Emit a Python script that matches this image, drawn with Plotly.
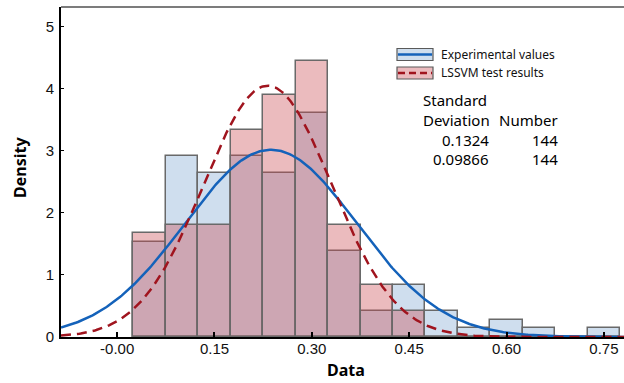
import numpy as np
import plotly.graph_objects as go

# ---- data ----
bin_centers = [0.05, 0.10, 0.15, 0.20, 0.25, 0.30, 0.35, 0.40, 0.45, 0.50, 0.55, 0.60, 0.65, 0.70, 0.75]
exp_counts = [11, 21, 19, 21, 19, 26, 10, 3, 6, 3, 1, 2, 1, 0, 1]
lssvm_counts = [12, 13, 13, 24, 28, 32, 13, 6, 3, 0, 0, 0, 0, 0, 0]
bin_width = 0.05
n_samples = [144, 144]
std_values = [0.1324, 0.09866]
std_labels = ["0.1324", "0.09866"]
mean_values = [0.237, 0.232]
series_names = ["Experimental values", "LSSVM test results"]
x_tickvals = [0.0, 0.15, 0.30, 0.45, 0.60, 0.75]
x_ticktext = ["-0.00", "0.15", "0.30", "0.45", "0.60", "0.75"]
y_tickvals = [0, 1, 2, 3, 4, 5]

X_RANGE = [-0.0865, 0.781]
Y_RANGE = [0, 5.31]

W, H = 624, 383
ML, MR, MT, MB = 61, 0, 7, 46
PW, PH = W - ML - MR, H - MT - MB


def px(x):
    return (x - ML) / PW


def py(y):
    return (H - MB - y) / PH


exp_density = [c / (n_samples[0] * bin_width) for c in exp_counts]
lssvm_density = [c / (n_samples[1] * bin_width) for c in lssvm_counts]

xs = np.linspace(X_RANGE[0], X_RANGE[1], 400)


def normal_pdf(x, m, s):
    return np.exp(-0.5 * ((x - m) / s) ** 2) / (s * np.sqrt(2 * np.pi))


BLUE_FILL = "rgba(127,167,210,0.375)"
PINK_FILL = "rgba(202,74,82,0.375)"
OUTLINE = "rgb(105,105,105)"
BLUE_LINE = "rgb(20,98,186)"
RED_LINE = "rgb(160,20,30)"

fig = go.Figure()
fig.add_trace(go.Bar(x=bin_centers, y=exp_density, width=bin_width,
                     marker=dict(color=BLUE_FILL, line=dict(color=OUTLINE, width=1.5)),
                     name=series_names[0], showlegend=False))
fig.add_trace(go.Bar(x=bin_centers, y=lssvm_density, width=bin_width,
                     marker=dict(color=PINK_FILL, line=dict(color=OUTLINE, width=1.5)),
                     name=series_names[1], showlegend=False))
fig.add_trace(go.Scatter(x=xs, y=normal_pdf(xs, mean_values[0], std_values[0]), mode="lines",
                         line=dict(color=BLUE_LINE, width=2.5), showlegend=False))
fig.add_trace(go.Scatter(x=xs, y=normal_pdf(xs, mean_values[1], std_values[1]), mode="lines",
                         line=dict(color=RED_LINE, width=2.5, dash="10px,6px"), showlegend=False))

tick_font = dict(family="Liberation Sans", size=15, color="#111")
fig.update_layout(
    width=W, height=H,
    margin=dict(l=ML, r=MR, t=MT, b=MB),
    paper_bgcolor="white", plot_bgcolor="white",
    barmode="overlay", bargap=0,
    showlegend=False,
    xaxis=dict(range=X_RANGE, showgrid=False, zeroline=False, showline=True,
               linecolor="black", linewidth=2, ticks="inside", ticklen=5, tickwidth=1.5,
               tickcolor="black", tickvals=x_tickvals, ticktext=x_ticktext,
               tickfont=tick_font, ticklabelstandoff=-3),
    yaxis=dict(range=Y_RANGE, showgrid=False, zeroline=False, showline=True,
               linecolor="black", linewidth=2, ticks="inside", ticklen=3, tickwidth=1,
               tickcolor="black", tickvals=y_tickvals,
               tickfont=tick_font, ticklabelstandoff=2),
)

shapes = []
# top frame line
shapes.append(dict(type="line", xref="paper", yref="paper", x0=0, x1=1, y0=1, y1=1,
                   line=dict(color="rgb(80,80,80)", width=1.5)))
# legend symbols
leg = [(48.5, 60.5, "rgb(207,222,238)", BLUE_LINE, "solid"),
       (67, 79, "rgb(235,187,190)", RED_LINE, "7px,4px")]
for y0, y1, fillc, linec, dash in leg:
    shapes.append(dict(type="rect", xref="paper", yref="paper",
                       x0=px(397), x1=px(433), y0=py(y1), y1=py(y0),
                       fillcolor=fillc, line=dict(color="rgb(90,90,90)", width=1.2)))
    shapes.append(dict(type="line", xref="paper", yref="paper",
                       x0=px(398), x1=px(432), y0=py((y0 + y1) / 2), y1=py((y0 + y1) / 2),
                       line=dict(color=linec, width=2.5, dash=dash)))
fig.update_layout(shapes=shapes)

ann = []
leg_font = dict(family="Noto Sans", size=12, color="#111")
for i, yc in enumerate([54.5, 73]):
    ann.append(dict(text=series_names[i], xref="paper", yref="paper", x=px(439), y=py(yc),
                    xanchor="left", yanchor="middle", showarrow=False, font=leg_font))
stat_font = dict(family="Noto Sans", size=15, color="#000")
ann.append(dict(text="Standard", xref="paper", yref="paper", x=px(421), y=py(100),
                xanchor="left", yanchor="middle", showarrow=False, font=stat_font))
ann.append(dict(text="Deviation", xref="paper", yref="paper", x=px(421), y=py(120),
                xanchor="left", yanchor="middle", showarrow=False, font=stat_font))
ann.append(dict(text="Number", xref="paper", yref="paper", x=px(560), y=py(120),
                xanchor="right", yanchor="middle", showarrow=False, font=stat_font))
for i, yc in enumerate([139.5, 159]):
    ann.append(dict(text=std_labels[i], xref="paper", yref="paper", x=px(491), y=py(yc),
                    xanchor="right", yanchor="middle", showarrow=False, font=stat_font))
    ann.append(dict(text=str(n_samples[i]), xref="paper", yref="paper", x=px(560), y=py(yc),
                    xanchor="right", yanchor="middle", showarrow=False, font=stat_font))
title_font = dict(family="Noto Sans", size=16, color="#000")
ann.append(dict(text="<b>Density</b>", xref="paper", yref="paper", x=px(20), y=py(168),
                xanchor="center", yanchor="middle", textangle=-90, showarrow=False, font=title_font))
ann.append(dict(text="<b>Data</b>", xref="paper", yref="paper", x=px(346), y=py(370),
                xanchor="center", yanchor="middle", showarrow=False, font=title_font))
fig.update_layout(annotations=ann)

fig.write_html("out.html")
